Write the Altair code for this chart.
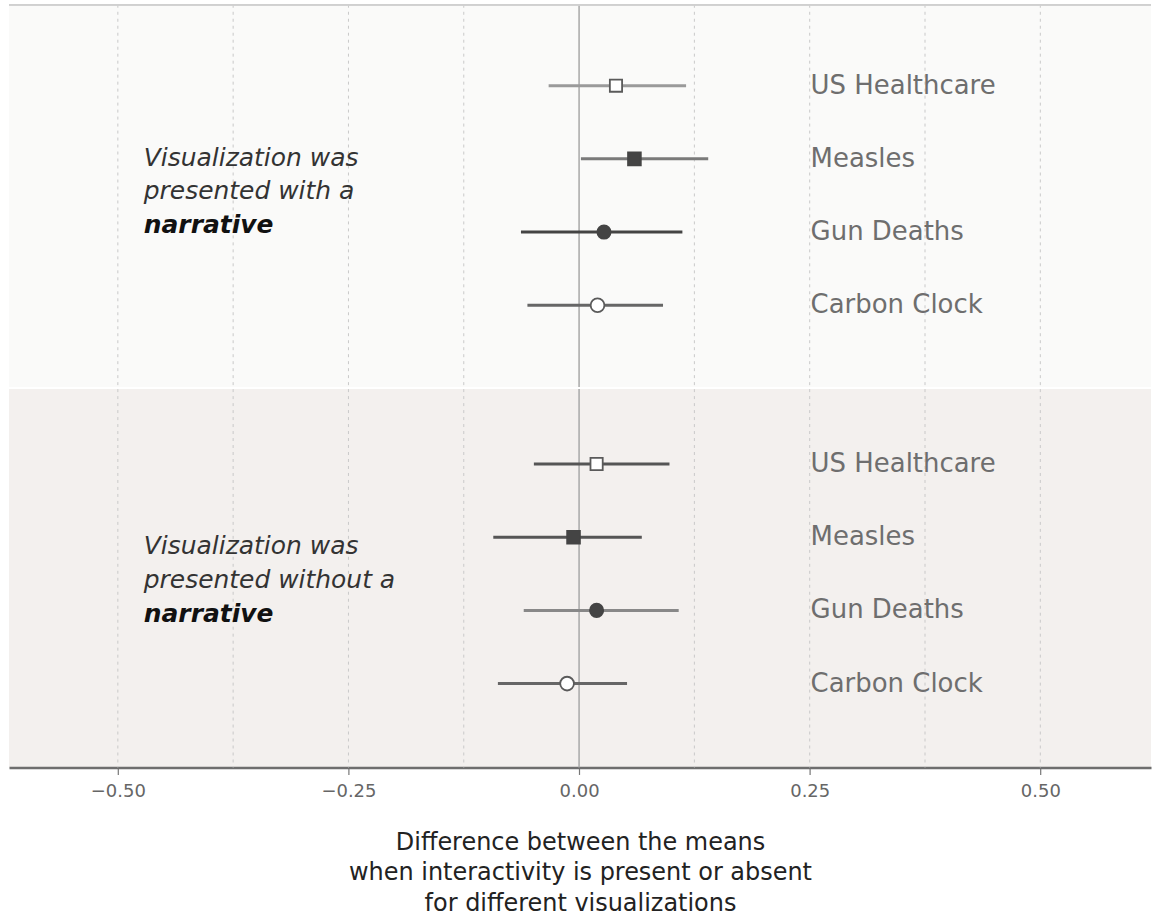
import altair as alt
import pandas as pd

# ---- data ----
viz = ["US Healthcare", "Measles", "Gun Deaths", "Carbon Clock"]
mean_narr = [0.040, 0.060, 0.027, 0.020]
lo_narr = [-0.033, 0.002, -0.063, -0.056]
hi_narr = [0.116, 0.140, 0.112, 0.091]
mean_none = [0.019, -0.006, 0.019, -0.013]
lo_none = [-0.049, -0.093, -0.060, -0.088]
hi_none = [0.098, 0.068, 0.108, 0.052]
grid_values = [-0.5, -0.375, -0.25, -0.125, 0.125, 0.25, 0.375, 0.5]
tick_values = [-0.5, -0.25, 0.0, 0.25, 0.5]
annot_narr = ["Visualization was", "presented with a", "narrative"]
annot_none = ["Visualization was", "presented without a", "narrative"]
x_title = ["Difference between the means",
           "when interactivity is present or absent",
           "for different visualizations"]

FONT = "DejaVu Sans"
W = 1144
xscale = alt.Scale(domain=[-0.618, 0.620], nice=False, zero=False)

# line shades per group/visualization (styling)
keys = [f"narr|{v}" for v in viz] + [f"none|{v}" for v in viz]
line_colors = ["#9a9a9a", "#7a7a7a", "#444444", "#666666",
               "#555555", "#555555", "#888888", "#666666"]


def build_df(tag, means, los, his):
    return pd.DataFrame({
        "viz": viz,
        "mean": means,
        "lo": los,
        "hi": his,
        "key": [f"{tag}|{v}" for v in viz],
    })


def panel(df, annot, height, yrange, text_y, show_axis):
    yenc = alt.Y("viz:N", sort=viz, axis=None,
                 scale=alt.Scale(type="point", padding=0, range=yrange))
    if show_axis:
        xaxis = alt.Axis(values=tick_values, format=".2f", grid=False,
                         domainColor="#6e6e6e", domainWidth=2.5,
                         tickColor="#777777", tickSize=7, tickWidth=1.2,
                         labelFont=FONT, labelFontSize=18, labelColor="#666666",
                         labelPadding=8,
                         title=x_title, titleFont=FONT, titleFontSize=24,
                         titleFontWeight="normal", titleColor="#222222",
                         titlePadding=30, titleLineHeight=30.5)
    else:
        xaxis = None

    grid = alt.Chart(pd.DataFrame({"g": grid_values})).mark_rule(
        color="#c9c9c9", strokeDash=[3, 4], strokeWidth=1
    ).encode(x=alt.X("g:Q", scale=xscale, axis=xaxis))

    zero = alt.Chart(pd.DataFrame({"g": [0.0]})).mark_rule(
        color="#a8a8a8", strokeWidth=1.5
    ).encode(x=alt.X("g:Q", scale=xscale, axis=xaxis))

    ci = alt.Chart(df).mark_rule(strokeWidth=3).encode(
        x=alt.X("lo:Q", scale=xscale, axis=xaxis),
        x2="hi:Q",
        y=yenc,
        stroke=alt.Stroke("key:N", scale=alt.Scale(domain=keys, range=line_colors),
                          legend=None),
    )

    pts = alt.Chart(df).mark_point(filled=True, strokeWidth=1.8, opacity=1).encode(
        x=alt.X("mean:Q", scale=xscale, axis=xaxis),
        y=yenc,
        shape=alt.Shape("viz:N", scale=alt.Scale(domain=viz,
                        range=["square", "square", "circle", "circle"]), legend=None),
        fill=alt.Fill("viz:N", scale=alt.Scale(domain=viz,
                      range=["#ffffff", "#444444", "#444444", "#ffffff"]), legend=None),
        stroke=alt.Stroke("viz:N", scale=alt.Scale(domain=viz,
                          range=["#5a5a5a", "#444444", "#444444", "#5a5a5a"]), legend=None),
        size=alt.Size("viz:N", scale=alt.Scale(domain=viz,
                      range=[150, 190, 210, 170]), legend=None),
    )

    labels = alt.Chart(df).mark_text(
        align="left", baseline="middle", font=FONT, fontSize=26, color="#6e6e6e"
    ).encode(x=alt.value(803), y=yenc, text="viz:N")

    border = alt.Chart(df).mark_rule(color="#d0d0d0", strokeWidth=1.5).encode(
        x=alt.value(0), x2=alt.value(W), y=alt.value(0))

    layers = [grid, zero, ci, pts, labels]

    annot_df = pd.DataFrame({"t": annot, "i": list(range(len(annot)))})
    for i in range(len(annot)):
        last = i == len(annot) - 1
        layers.append(
            alt.Chart(annot_df).transform_filter(alt.datum.i == i).mark_text(
                align="left", baseline="middle", font=FONT, fontSize=25,
                fontStyle="italic", fontWeight="bold" if last else "normal",
                color="#111111" if last else "#333333",
            ).encode(x=alt.value(135), y=alt.value(text_y + 34 * i), text="t:N")
        )
    if not show_axis:
        layers.append(border)

    return alt.layer(*layers).properties(width=W, height=height).resolve_scale(
        stroke="independent")


top = panel(build_df("narr", mean_narr, lo_narr, hi_narr), annot_narr,
            383, [81, 301], 153, False).properties(
    view=alt.ViewBackground(fill="#fafaf9", stroke=None))
bottom = panel(build_df("none", mean_none, lo_none, hi_none), annot_none,
               379, [75, 295], 157, True).properties(
    view=alt.ViewBackground(fill="#f3f0ee", stroke=None))

chart = alt.vconcat(top, bottom, spacing=0).resolve_scale(
    y="independent"
).properties(
    padding={"left": 8, "top": 3, "right": 5, "bottom": 0},
    background="#ffffff",
).configure_view(stroke=None)

chart.save("out.html", embed_options={"renderer": "svg", "actions": False})
